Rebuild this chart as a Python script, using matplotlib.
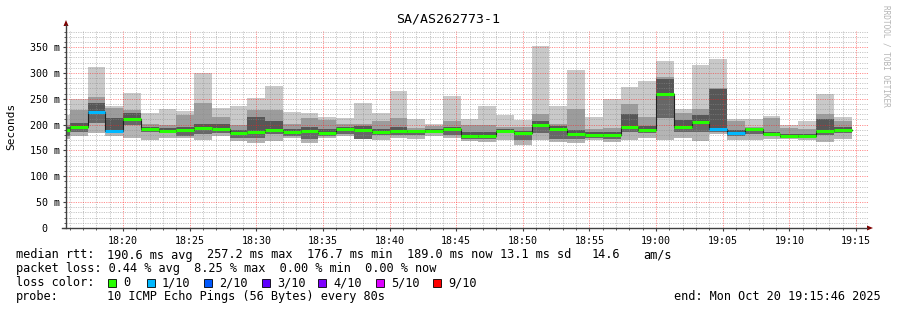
import numpy as np
import matplotlib.pyplot as plt
from matplotlib.patches import Rectangle, Polygon
from matplotlib.lines import Line2D
from matplotlib.ticker import MultipleLocator, FuncFormatter

W, H = 897, 310
MONO = 'DejaVu Sans Mono'

# smokeping rtt data (ms), one bar per 80 s step, first bar is cut by the left edge
step_min = 80 / 60
first_start = 16.0 - step_min          # minutes after 18:00

rtt_top    = [218, 249, 311, 236, 262, 222, 230, 226, 299, 233, 236, 251, 275, 225, 223,
              215, 212, 242, 223, 264, 210, 202, 255, 210, 236, 219, 209, 352, 236, 306,
              214, 249, 272, 284, 323, 230, 315, 327, 211, 211, 217, 199, 207, 260, 215]
rtt_upper  = [200, 228, 254, 232, 228, 202, 199, 219, 241, 215, 199, 228, 228, 202, 212,
              209, 202, 202, 206, 212, 193, 197, 206, 199, 199, 195, 195, 220, 202, 231,
              191, 193, 240, 214, 293, 222, 230, 270, 206, 196, 212, 193, 192, 220, 206]
rtt_inner  = [195, 203, 242, 213, 222, 196, 193, 196, 202, 202, 190, 215, 206, 192, 195,
              192, 196, 197, 192, 195, 190, 192, 196, 185, 185, 192, 188, 206, 197, 190,
              185, 186, 220, 198, 288, 208, 219, 268, 190, 194, 186, 182, 181, 210, 195]
rtt_median = [190, 195, 224, 188, 211, 192, 188, 190, 193, 191, 183, 186, 190, 186, 188,
              184, 191, 190, 185, 188, 187, 188, 191, 178, 178, 188, 184, 200, 192, 181,
              180, 180, 196, 190, 259, 196, 205, 192, 183, 192, 182, 178, 177, 188, 190]
rtt_lower  = [178, 186, 203, 186, 199, 186, 184, 177, 182, 184, 175, 175, 182, 178, 173,
              178, 182, 173, 180, 180, 180, 183, 180, 173, 173, 183, 171, 183, 173, 173,
              175, 173, 186, 184, 212, 186, 186, 185, 177, 181, 179, 175, 174, 180, 184]
rtt_bottom = [172, 177, 184, 177, 175, 170, 175, 174, 171, 177, 169, 165, 169, 174, 164,
              174, 177, 172, 170, 175, 173, 177, 175, 168, 167, 170, 161, 170, 167, 165,
              170, 167, 171, 175, 170, 175, 169, 182, 170, 170, 173, 173, 171, 167, 173]
loss_tenths = [0, 0, 1, 1, 0, 0, 0, 0, 0, 0, 0, 0, 0, 0, 0,
               0, 0, 0, 0, 0, 0, 0, 0, 0, 0, 0, 0, 0, 0, 0,
               0, 0, 0, 0, 0, 0, 0, 1, 1, 0, 0, 0, 0, 0, 0]

loss_labels = ['0', '1/10', '2/10', '3/10', '4/10', '5/10', '9/10']
loss_levels = [0, 1, 2, 3, 4, 5, 9]
loss_colors = ['#26ff00', '#00b8ff', '#0059ff', '#5e00ff', '#7e00ff', '#dd00ff', '#ff0000']

stats_rtt = ['median rtt:', '190.6 ms avg', '257.2 ms max', '176.7 ms min',
             '189.0 ms now', '13.1 ms sd', '14.6', 'am/s']
stats_loss = 'packet loss: 0.44 % avg  8.25 % max  0.00 % min  0.00 % now'
probe_text = '10 ICMP Echo Pings (56 Bytes) every 80s'
end_text = 'end: Mon Oct 20 19:15:46 2025'


def fx(px):
    return px / W


def fy(py):
    return 1 - py / H


fig = plt.figure(figsize=(W / 100, H / 100), dpi=100, facecolor='white')
ax = fig.add_axes([fx(66), fy(228), fx(868) - fx(66), fy(31) - fy(228)])
ax.set_facecolor('white')

n = len(rtt_median)
starts = first_start + step_min * np.arange(n)
top = np.array(rtt_top, float)
upper = np.array(rtt_upper, float)
inner = np.array(rtt_inner, float)
med = np.array(rtt_median, float)
lower = np.array(rtt_lower, float)
bottom = np.array(rtt_bottom, float)

# smoke bands, darker near the median
bands = [(upper, top, '#c9c9c9'), (inner, upper, '#9c9c9c'), (med, inner, '#575757'),
         (lower, med, '#676767'), (bottom, lower, '#b4b4b4')]
for lo, hi, col in bands:
    ax.bar(starts, hi - lo, bottom=lo, width=step_min, align='edge',
           color=col, linewidth=0, antialiased=False, zorder=1)

# median: thin dark step line + thick loss-coloured segments
ax.step(np.append(starts, starts[-1] + step_min), np.append(med, med[-1]),
        where='post', color='#202020', lw=0.8, zorder=3)
cmap = dict(zip(loss_levels, loss_colors))
ax.hlines(med, starts, starts + step_min, colors=[cmap[l] for l in loss_tenths],
          lw=2.2, zorder=4)

ax.set_xlim(15.72, 75.9)
ax.set_ylim(0, 381)

ax.xaxis.set_major_locator(MultipleLocator(5))
ax.xaxis.set_minor_locator(MultipleLocator(1))
ax.yaxis.set_major_locator(MultipleLocator(50))
ax.yaxis.set_minor_locator(MultipleLocator(10))
ax.xaxis.set_major_formatter(FuncFormatter(
    lambda v, p: '%d:%02d' % (18 + int(round(v)) // 60, int(round(v)) % 60)))
ax.yaxis.set_major_formatter(FuncFormatter(
    lambda v, p: '0  ' if v == 0 else '%d m' % v))

# rrdtool draws its grid translucent, on top of the graph
ax.grid(which='minor', color='#8c8c8c', alpha=0.5, lw=0.7, ls=(0, (1.2, 1.2)))
ax.grid(which='major', color='#ff2020', alpha=0.5, lw=0.7, ls=(0, (1.2, 1.2)))
ax.set_axisbelow(False)

for s in ax.spines.values():
    s.set_visible(False)
ax.tick_params(which='major', length=2.5, width=0.8, color='#404040',
               labelsize=7.2, pad=1.5)
ax.tick_params(which='minor', length=1.5, width=0.6, color='#404040')
for lab in ax.get_xticklabels() + ax.get_yticklabels():
    lab.set_family(MONO)
ax.tick_params(axis='x', pad=3)

# axes with arrows
fig.add_artist(Line2D([fx(66), fx(66)], [fy(228), fy(25)], color='#404040', lw=1))
fig.add_artist(Line2D([fx(62), fx(867)], [fy(228), fy(228)], color='#404040', lw=1))
fig.add_artist(Polygon([[fx(63.5), fy(26)], [fx(68.5), fy(26)], [fx(66), fy(20)]],
                       closed=True, color='#7f0000', lw=0))
fig.add_artist(Polygon([[fx(867), fy(225.5)], [fx(867), fy(230.5)], [fx(873), fy(228)]],
                       closed=True, color='#7f0000', lw=0))

fig.text(fx(448), fy(19), 'SA/AS262773-1', family=MONO, fontsize=9.5,
         ha='center', va='center')
fig.text(fx(11), fy(126), 'Seconds', family=MONO, fontsize=8, rotation=90,
         ha='center', va='center')
fig.text(fx(886), fy(5), 'RRDTOOL / TOBI OETIKER', family=MONO, fontsize=5.6,
         rotation=270, ha='center', va='top', color='#b4b4b4')

# legend block
fs = 8.6
rtt_x = [16, 107, 207, 307, 407, 500, 592, 643]
for txt, x in zip(stats_rtt, rtt_x):
    fig.text(fx(x), fy(255), txt, family=MONO, fontsize=fs, va='center')
fig.text(fx(16), fy(268.5), stats_loss, family=MONO, fontsize=fs, va='center')
fig.text(fx(16), fy(282.5), 'loss color:', family=MONO, fontsize=fs, va='center')
sq_x = [108, 147, 204, 262, 318, 376, 433]
for lab, col, x in zip(loss_labels, loss_colors, sq_x):
    fig.add_artist(Rectangle((fx(x), fy(286.5)), fx(8), 8 / H, transform=fig.transFigure,
                             facecolor=col, edgecolor='#000000', lw=0.6))
    fig.text(fx(x + 15), fy(282.5), lab, family=MONO, fontsize=fs, va='center')
fig.text(fx(16), fy(296.5), 'probe:', family=MONO, fontsize=fs, va='center')
fig.text(fx(107), fy(296.5), probe_text, family=MONO, fontsize=fs, va='center')
fig.text(fx(881), fy(296.5), end_text, family=MONO, fontsize=fs, va='center', ha='right')

fig.savefig('out.png', dpi=100, facecolor='white')
